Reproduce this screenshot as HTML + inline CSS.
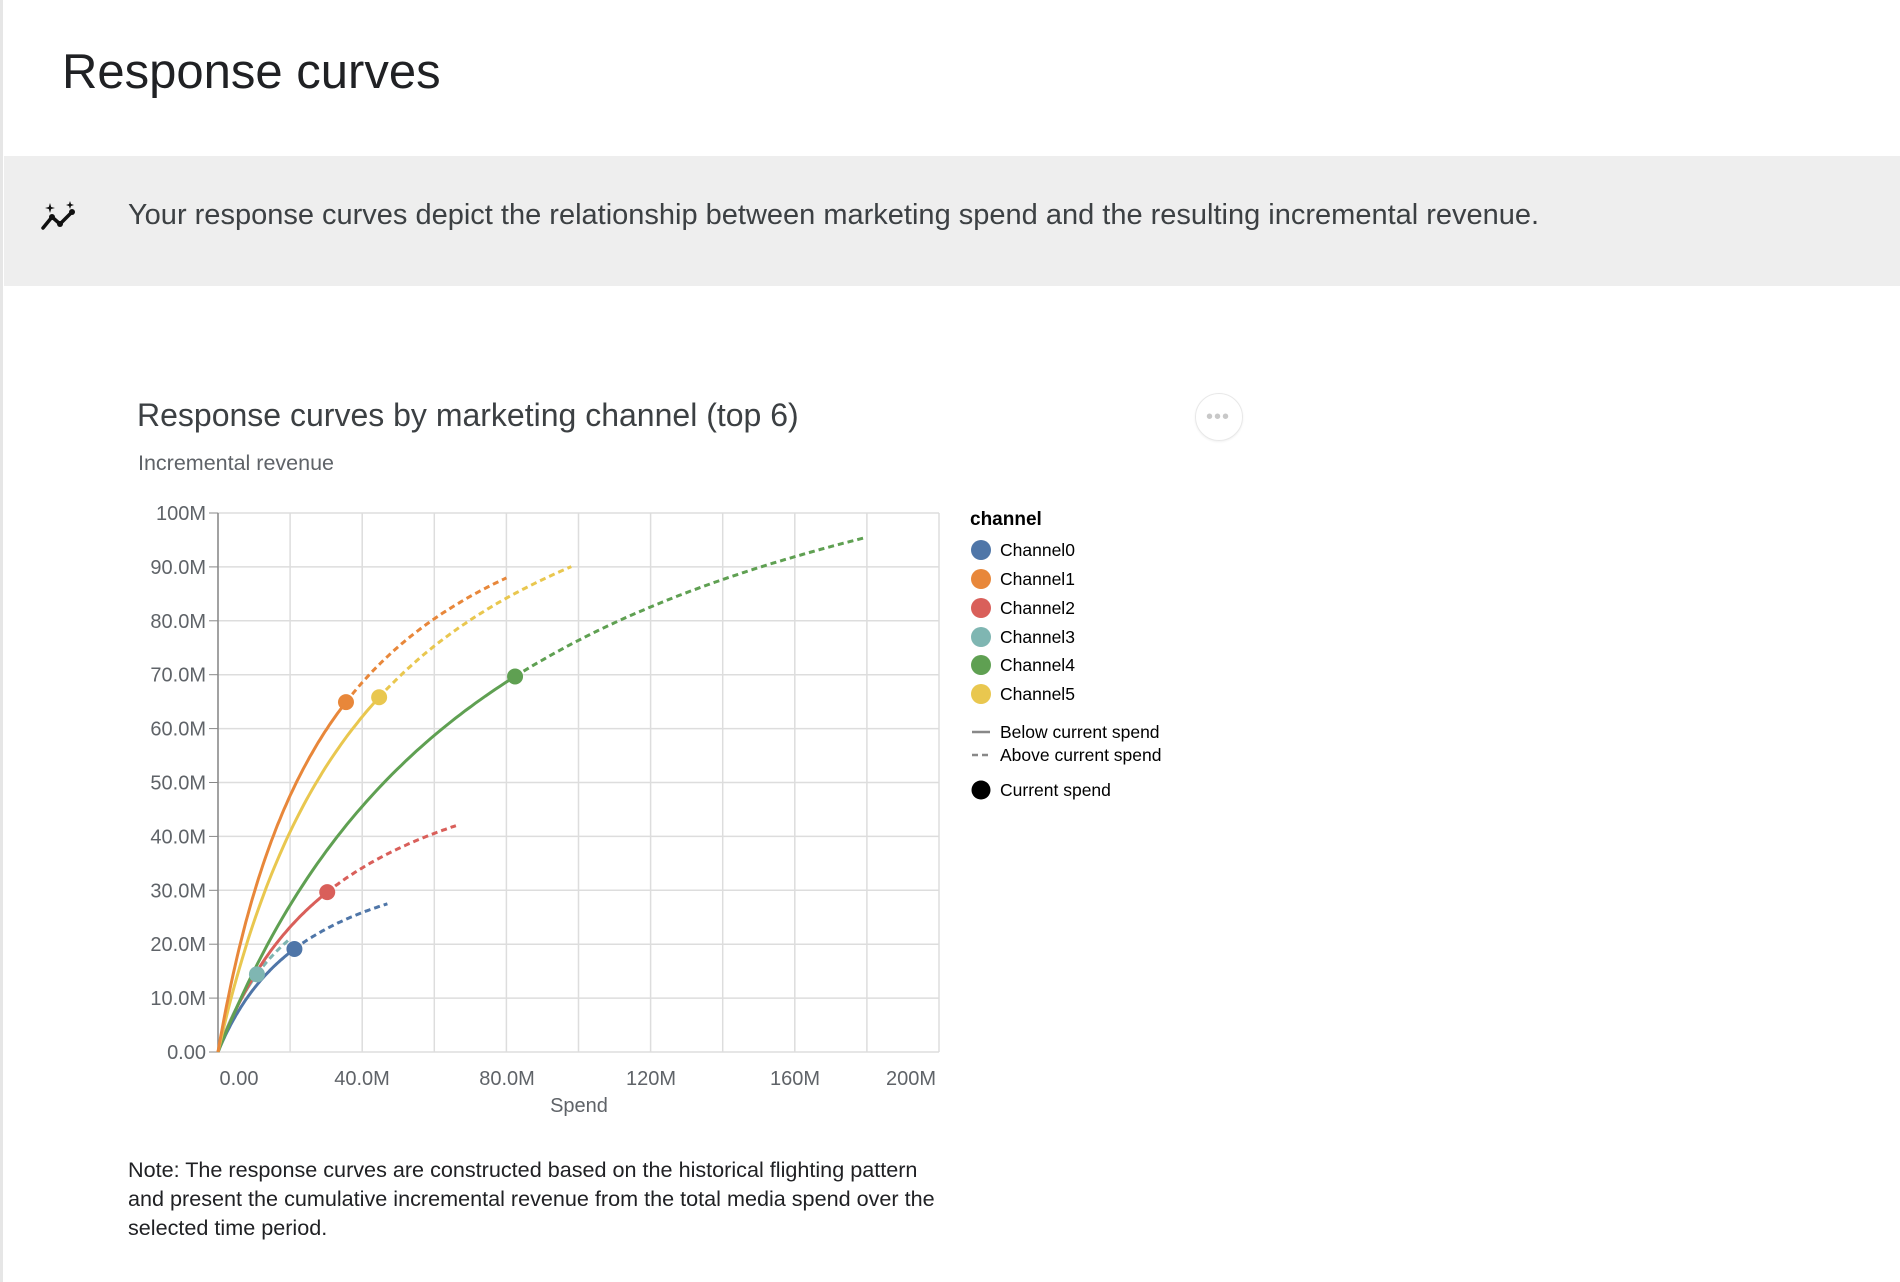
<!DOCTYPE html>
<html><head><meta charset="utf-8"><style>
body{margin:0;width:1900px;height:1282px;background:#fff;font-family:"Liberation Sans",sans-serif;position:relative;overflow:hidden}
.abs{position:absolute;white-space:nowrap}
</style></head><body>
<div class="abs" style="left:0;top:0;width:3px;height:1282px;background:#e6e6e6"></div>
<div class="abs" style="left:62px;top:44px;font-size:49px;color:#202124">Response curves</div>
<div class="abs" style="left:4px;top:156px;width:1896px;height:130px;background:#eeeeee"></div>
<svg class="abs" style="left:40px;top:200px" width="44" height="36" viewBox="0 0 44 36">
<polyline points="3,28 12,17 20,24 32,12" fill="none" stroke="#111" stroke-width="3.5" stroke-linejoin="round" stroke-linecap="round"/>
<circle cx="12" cy="17" r="3" fill="#111"/><circle cx="20" cy="24" r="3" fill="#111"/><circle cx="32" cy="12" r="3" fill="#111"/>
<path d="M10 3 L11.2 7 L15 8 L11.2 9 L10 13 L8.8 9 L5 8 L8.8 7Z" fill="#111"/>
<path d="M30 1 L31 4 L34 5 L31 6 L30 9 L29 6 L26 5 L29 4Z" fill="#111"/>
</svg>
<div class="abs" style="left:128px;top:199px;font-size:29px;color:#3c4043">Your response curves depict the relationship between marketing spend and the resulting incremental revenue.</div>
<div class="abs" style="left:137px;top:397px;font-size:32px;color:#3c4043">Response curves by marketing channel (top 6)</div>
<div class="abs" style="left:138px;top:451px;font-size:21.5px;color:#5f6368">Incremental revenue</div>
<div class="abs" style="left:1195px;top:393px;width:46px;height:46px;border-radius:50%;border:1px solid #e8e8e8;box-shadow:0 1px 2px rgba(0,0,0,.06)"></div>
<div class="abs" style="left:1206px;top:406px;font-size:20px;color:#c8c8c8;letter-spacing:1px">•••</div>
<svg id="ch" class="abs" style="left:0;top:0" width="1900" height="1282"></svg>
<div class="abs" style="left:970px;top:509px;font-size:19px;font-weight:bold;color:#000">channel</div>
<div class="abs" style="left:128px;top:1155px;font-size:21.6px;line-height:29px;color:#202124">Note: The response curves are constructed based on the historical flighting pattern<br>and present the cumulative incremental revenue from the total media spend over the<br>selected time period.</div>
<script>
const X0=218,X1=939,Y0=1052,Y1=513;
const px=s=>X0+s/200*(X1-X0), py=r=>Y0-r/100*(Y0-Y1);
let g='';
for(let i=0;i<=10;i++){let x=px(i*20);g+=`<line x1="${x}" y1="${Y1}" x2="${x}" y2="${Y0}" stroke="#dddddd" stroke-width="1.5"/>`;}
for(let i=0;i<=10;i++){let y=py(i*10);g+=`<line x1="${X0}" y1="${y}" x2="${X1}" y2="${y}" stroke="#dddddd" stroke-width="1.5"/>`;
g+=`<line x1="${X0-9}" y1="${y}" x2="${X0}" y2="${y}" stroke="#888"/>`;
let t=i==0?'0.00':i==10?'100M':(i*10)+'.0M';
g+=`<text x="${X0-12}" y="${y+7}" text-anchor="end" font-size="20" fill="#5f6368" font-family="Liberation Sans">${t}</text>`;}
g+=`<line x1="${X0}" y1="${Y1}" x2="${X0}" y2="${Y0}" stroke="#888" stroke-width="1.5"/>`;
const xl=[['0.00',239],['40.0M',362],['80.0M',507],['120M',651],['160M',795],['200M',911]];
xl.forEach(([t,x])=>g+=`<text x="${x}" y="1085" text-anchor="middle" font-size="20" fill="#5f6368" font-family="Liberation Sans">${t}</text>`);
g+=`<text x="579" y="1112" text-anchor="middle" font-size="20" fill="#5f6368" font-family="Liberation Sans">Spend</text>`;
const C=[['#4f76a8',43,26.5,21.2,47],['#e8873a',122.7,31.6,35.5,80],['#d95f5a',64.9,36,30.3,66],['#7fb6b2',45.5,23.3,10.8,20],['#5fa052',139,82,82.4,180],['#e9c74f',130.3,43.8,44.7,98]];
const order=[0,3,2,4,5,1];
let dots='';
order.forEach(i=>{const [c,A,k,cur,end]=C[i];const f=s=>A*s/(s+k);
let a='',b='';for(let j=0;j<=60;j++){let s=cur*j/60;a+=(j?'L':'M')+px(s).toFixed(1)+' '+py(f(s)).toFixed(1);}
for(let j=0;j<=60;j++){let s=cur+(end-cur)*j/60;b+=(j?'L':'M')+px(s).toFixed(1)+' '+py(f(s)).toFixed(1);}
g+=`<path d="${a}" fill="none" stroke="${c}" stroke-width="3"/><path d="${b}" fill="none" stroke="${c}" stroke-width="3" stroke-dasharray="6,4"/>`;
dots+=`<circle cx="${px(cur)}" cy="${py(f(cur))}" r="8" fill="${c}"/>`;});
g+=dots;
const L=['Channel0','Channel1','Channel2','Channel3','Channel4','Channel5'];
const ly=[550,579,608,637,665,694];
L.forEach((t,i)=>{g+=`<circle cx="981" cy="${ly[i]}" r="10" fill="${C[i][0]}"/><text x="1000" y="${ly[i]+6}" font-size="17.5" fill="#000" font-family="Liberation Sans">${t}</text>`;});
g+=`<line x1="972" y1="732" x2="990" y2="732" stroke="#888" stroke-width="2.5"/><text x="1000" y="738" font-size="17.5" font-family="Liberation Sans">Below current spend</text>`;
g+=`<line x1="972" y1="755" x2="990" y2="755" stroke="#888" stroke-width="2.5" stroke-dasharray="6,4"/><text x="1000" y="761" font-size="17.5" font-family="Liberation Sans">Above current spend</text>`;
g+=`<circle cx="981" cy="790" r="9.5" fill="#000"/><text x="1000" y="796" font-size="17.5" font-family="Liberation Sans">Current spend</text>`;
document.getElementById('ch').innerHTML=g;
</script>
</body></html>
